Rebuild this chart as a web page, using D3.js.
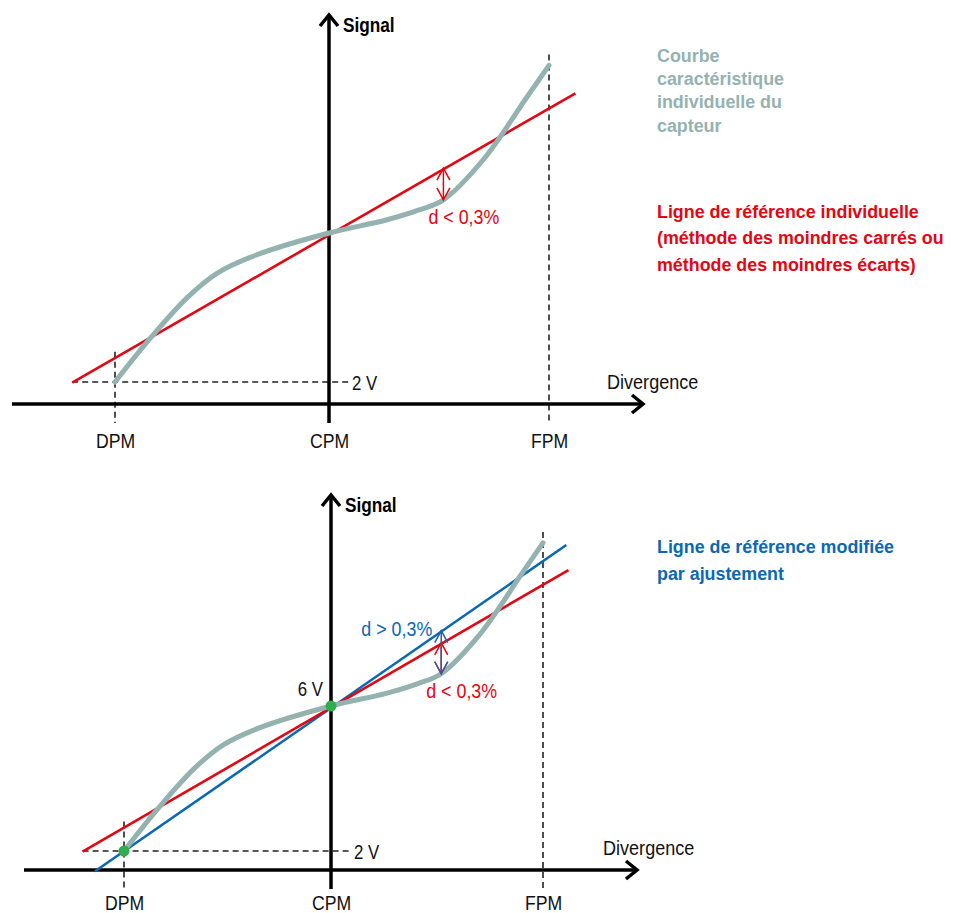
<!DOCTYPE html>
<html>
<head>
<meta charset="utf-8">
<script src="https://cdn.jsdelivr.net/npm/d3@7"></script>
<style>
  body { margin: 0; background: #fff; }
  svg text { font-family: "Liberation Sans", Arial, sans-serif; }
</style>
</head>
<body>
<svg id="chart"></svg>
<script>
// divergence positions of the three marks
var tickVals = [-100, 0, 100];
var tickLabels = ["DPM", "CPM", "FPM"];

// characteristic curve of the sensor (divergence, volts)
var curveX = [-100, -83, -66, -52, -34, 0, 26, 41, 52, 70, 90, 100];
var curveV = [2.0, 3.21, 4.28, 4.93, 5.41, 6.0, 6.35, 6.62, 6.89, 7.96, 9.65, 10.5];

// individual reference line (least squares)
var refX = [-120, 112];
var refV = [1.98, 9.75];

// adjusted reference line
var adjX = [-114, 111];
var adjV = [1.44, 10.44];

var lowV = 2, midV = 6;
var devX = 52;

var legendCurve = ["Courbe", "caractéristique", "individuelle du", "capteur"];
var legendRef = ["Ligne de référence individuelle", "(méthode des moindres carrés ou", "méthode des moindres écarts)"];
var legendAdj = ["Ligne de référence modifiée", "par ajustement"];

var grey = "#93b2b0", red = "#e30613", blue = "#0a68b4", green = "#2fae4e", darkBlue = "#2a5fa8";

var svg = d3.select("#chart").attr("width", 953).attr("height", 913);

// condensed look: squeeze the text horizontally
function addText(parent, x, y, str, size, opts) {
  opts = opts || {};
  return parent.append("text")
    .attr("transform", "translate(" + x + "," + y + ") scale(" + (opts.sx || 0.86) + ",1)")
    .attr("font-size", size)
    .attr("font-weight", opts.bold ? "bold" : "normal")
    .attr("fill", opts.fill || "#111")
    .attr("text-anchor", opts.anchor || "start")
    .text(str);
}

function chevron(g, x, y, dir, color) {
  // dir -1 = pointing up, 1 = pointing down
  g.append("path")
    .attr("d", "M" + (x - 6.5) + "," + (y - dir * 12) + "L" + x + "," + y + "L" + (x + 6.5) + "," + (y - dir * 12))
    .attr("fill", "none").attr("stroke", color).attr("stroke-width", 1.5);
}

function panel(cfg) {
  var g = svg.append("g");
  var x = d3.scaleLinear().domain([-100, 0, 100]).range(cfg.xr);
  var y = d3.scaleLinear().domain([lowV, midV]).range(cfg.yr);
  var ax = x(0), ay = cfg.axisY;

  var pts = curveX.map(function (d, i) { return [d, curveV[i]]; });
  var line = d3.line().x(function (d) { return x(d[0]); }).y(function (d) { return y(d[1]); });
  var refScale = d3.scaleLinear().domain(refX).range(refV);
  var adjScale = d3.scaleLinear().domain(adjX).range(adjV);

  // dashed helpers
  var dash = "6,4";
  g.append("line")
    .attr("x1", x(refX[0])).attr("x2", ax + 20)
    .attr("y1", y(lowV)).attr("y2", y(lowV))
    .attr("stroke", "#222").attr("stroke-width", 1.6).attr("stroke-dasharray", dash);
  g.append("line")
    .attr("x1", x(-100)).attr("x2", x(-100))
    .attr("y1", y(refScale(-100)) - 6).attr("y2", ay + 19)
    .attr("stroke", "#222").attr("stroke-width", 1.6).attr("stroke-dasharray", dash);
  g.append("line")
    .attr("x1", x(100)).attr("x2", x(100))
    .attr("y1", y(curveV[curveV.length - 1]) - 11).attr("y2", ay + 19)
    .attr("stroke", "#222").attr("stroke-width", 1.6).attr("stroke-dasharray", dash);

  // axes with open arrow heads
  g.append("line").attr("x1", cfg.axisX0).attr("x2", cfg.axisX1).attr("y1", ay).attr("y2", ay)
    .attr("stroke", "#000").attr("stroke-width", 3.5);
  g.append("path")
    .attr("d", "M" + (cfg.axisX1 - 11) + "," + (ay - 9) + "L" + cfg.axisX1 + "," + ay + "L" + (cfg.axisX1 - 11) + "," + (ay + 9))
    .attr("fill", "none").attr("stroke", "#000").attr("stroke-width", 3.5);
  g.append("line").attr("x1", ax).attr("x2", ax).attr("y1", ay + 19).attr("y2", cfg.axisTop + 1)
    .attr("stroke", "#000").attr("stroke-width", 3.5);
  g.append("path")
    .attr("d", "M" + (ax - 9) + "," + (cfg.axisTop + 11) + "L" + ax + "," + cfg.axisTop + "L" + (ax + 9) + "," + (cfg.axisTop + 11))
    .attr("fill", "none").attr("stroke", "#000").attr("stroke-width", 3.5);

  var xAxis = g.append("g").attr("transform", "translate(0," + ay + ")")
    .call(d3.axisBottom(x).tickValues(tickVals).tickFormat(function (d, i) { return tickLabels[i]; })
      .tickSize(0).tickPadding(cfg.pad));
  xAxis.select(".domain").remove();
  xAxis.selectAll("text").attr("font-size", 21).attr("fill", "#111")
    .attr("transform", "scale(0.84,1)")
    .style("font-family", "'Liberation Sans', Arial, sans-serif");

  addText(g, ax + 14, cfg.axisTop + 17, "Signal", 21, { bold: true, sx: 0.82, fill: "#000" });
  addText(g, cfg.divX, ay - 15, "Divergence", 21);
  addText(g, ax + 23, y(lowV) + 8, "2 V", 21, { sx: 0.8 });

  // reference lines and curve
  if (cfg.adjusted) {
    g.append("path").datum(adjX.map(function (d, i) { return [d, adjV[i]]; }))
      .attr("d", line).attr("stroke", blue).attr("stroke-width", 2.6).attr("fill", "none");
  }
  g.append("path").datum(refX.map(function (d, i) { return [d, refV[i]]; }))
    .attr("d", line).attr("stroke", red).attr("stroke-width", 2.6).attr("fill", "none");
  g.append("path").datum(pts)
    .attr("d", line.curve(d3.curveCatmullRom)).attr("stroke", grey).attr("stroke-width", 5)
    .attr("stroke-linecap", "round").attr("fill", "none");

  // deviation arrows
  var dx = x(devX);
  var gy = y(curveV[curveX.indexOf(devX)]);
  var ry = y(refScale(devX));
  g.append("line").attr("x1", dx).attr("x2", dx).attr("y1", ry).attr("y2", gy)
    .attr("stroke", red).attr("stroke-width", 1.5);
  chevron(g, dx, ry, -1, red);
  chevron(g, dx, gy, 1, red);
  addText(g, dx - 15, gy + 24, "d < 0,3%", 21, { fill: red, sx: 0.85 });

  if (cfg.adjusted) {
    var by = y(adjScale(devX));
    g.append("line").attr("x1", dx).attr("x2", dx).attr("y1", by).attr("y2", gy)
      .attr("stroke", darkBlue).attr("stroke-width", 1.5);
    chevron(g, dx, by, -1, darkBlue);
    chevron(g, dx, gy, 1, darkBlue);
    addText(g, dx - 9, by + 5, "d > 0,3%", 21, { fill: blue, anchor: "end", sx: 0.85 });
    addText(g, ax - 8, y(midV) - 10, "6 V", 21, { anchor: "end", sx: 0.8 });
    g.selectAll(".pt").data([[-100, lowV], [0, midV]]).enter().append("circle")
      .attr("cx", function (d) { return x(d[0]); }).attr("cy", function (d) { return y(d[1]); })
      .attr("r", 5.5).attr("fill", green);
  }
  return g;
}

panel({ xr: [115, 329, 549], yr: [382, 233], axisY: 404, axisX0: 12, axisX1: 643, axisTop: 15, divX: 607, pad: 29, adjusted: false });
panel({ xr: [124, 331, 543], yr: [851, 706], axisY: 870, axisX0: 24, axisX1: 637, axisTop: 495, divX: 603, pad: 25, adjusted: true });

// legend texts
function legend(lines, y0, step, color) {
  var t = svg.append("text")
    .attr("transform", "translate(657," + y0 + ") scale(0.94,1)")
    .attr("font-size", 19).attr("font-weight", "bold").attr("fill", color);
  t.selectAll("tspan").data(lines).enter().append("tspan")
    .attr("x", 0).attr("y", function (d, i) { return i * step; })
    .text(function (d) { return d; });
}
legend(legendCurve, 62, 23.2, grey);
legend(legendRef, 218, 26.5, red);
legend(legendAdj, 553, 27, blue);
</script>
</body>
</html>
